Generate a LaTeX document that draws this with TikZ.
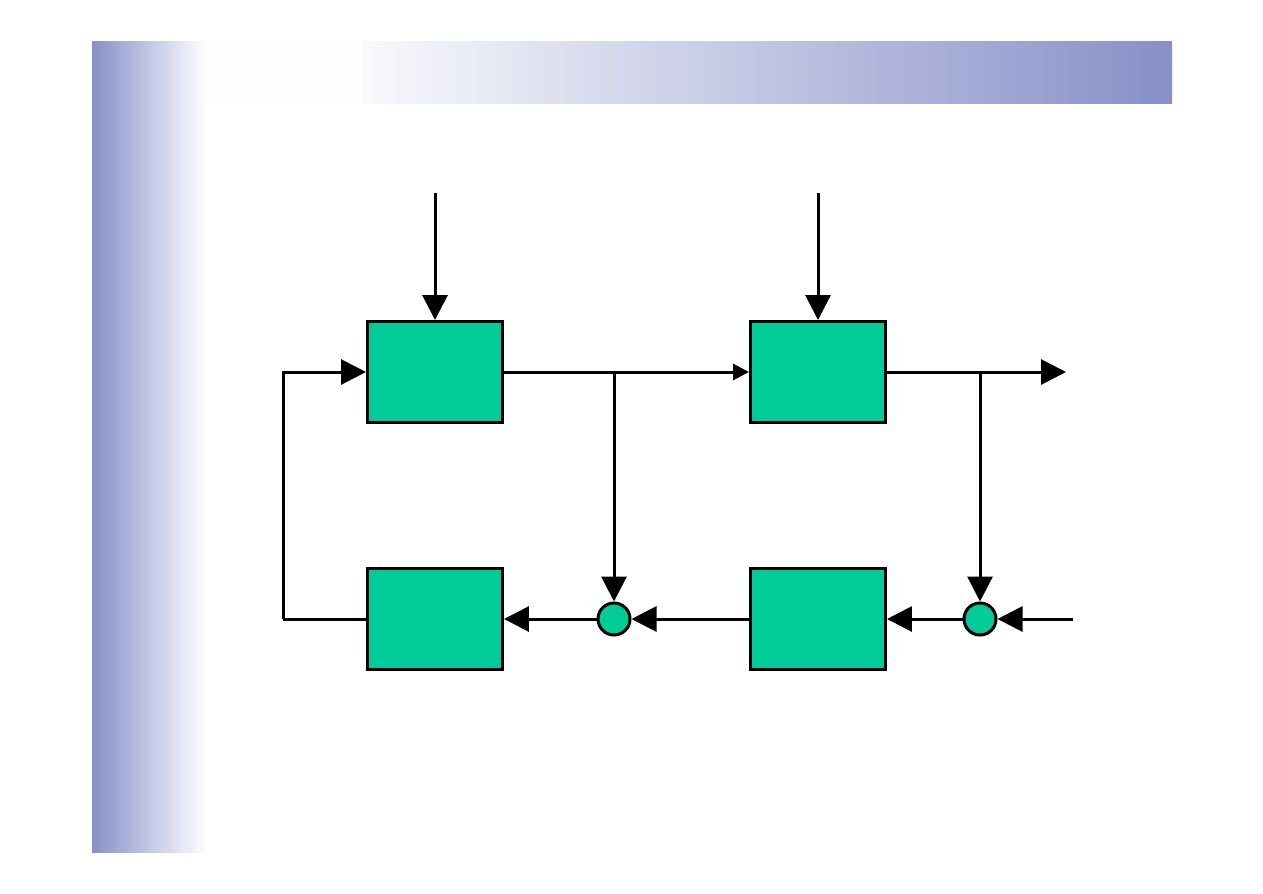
\documentclass[tikz,border=0pt]{standalone}
\usepackage{xcolor}
\usepackage{tikz}
\usetikzlibrary{arrows.meta}
\definecolor{blkgreen}{HTML}{00CC9A}
\definecolor{barblue}{HTML}{8790C8}
\begin{document}
\begin{tikzpicture}[x=0.02cm, y=-0.02cm,
  blk/.style  = {draw, line width=0.06cm, fill=blkgreen, minimum width=2.7cm,
                 minimum height=2.02cm, inner sep=0pt},
  sum/.style  = {draw, circle, line width=0.06cm, fill=blkgreen, minimum size=0.64cm,
                 inner sep=0pt},
  flw/.style  = {line width=0.06cm, -{Triangle[length=0.5cm, width=0.5cm]}},
  flws/.style = {line width=0.06cm, -{Triangle[length=0.32cm, width=0.32cm]}},
  lin/.style  = {line width=0.06cm}
]
\useasboundingbox (0,0) rectangle (1263,893);
% --- fond : bandes degradees ---
\shade[left color=barblue, right color=white] (92,41) rectangle (207,852);
\fill[white!98!barblue] (207,41) rectangle (362,103);
\shade[left color=white!95!barblue, right color=barblue] (362,41) rectangle (1172,103);

% --- blocs et sommateurs ---
\node[blk] (blkA) at (435,372) {};
\node[blk] (blkB) at (818,372) {};
\node[blk] (blkC) at (435,619) {};
\node[blk] (blkD) at (818,619) {};
\node[sum] (sumA) at (614,619) {};
\node[sum] (sumB) at (980,619) {};

% --- points libres ---
\coordinate (inA) at (435,193);
\coordinate (inB) at (818,193);
\coordinate (jA) at (614,372);
\coordinate (jB) at (980,372);
\coordinate (outB) at (1066,372);
\coordinate (refB) at (1073,619);
\coordinate (fb) at (283,619);

% --- ligne du haut ---
\draw[flw] (inA) -- (blkA);
\draw[flw] (inB) -- (blkB);
\draw[flws] (blkA) -- (blkB);
\draw[flw] (blkB) -- (outB);
\draw[flw] (jA) -- (sumA);
\draw[flw] (jB) -- (sumB);

% --- ligne du bas et retour ---
\draw[flw] (refB) -- (sumB);
\draw[flw] (sumB) -- (blkD);
\draw[flw] (blkD) -- (sumA);
\draw[flw] (sumA) -- (blkC);
\draw[lin] (blkC.west) -- (fb);
\draw[flw] (fb) |- (blkA.west);
\end{tikzpicture}
\end{document}
